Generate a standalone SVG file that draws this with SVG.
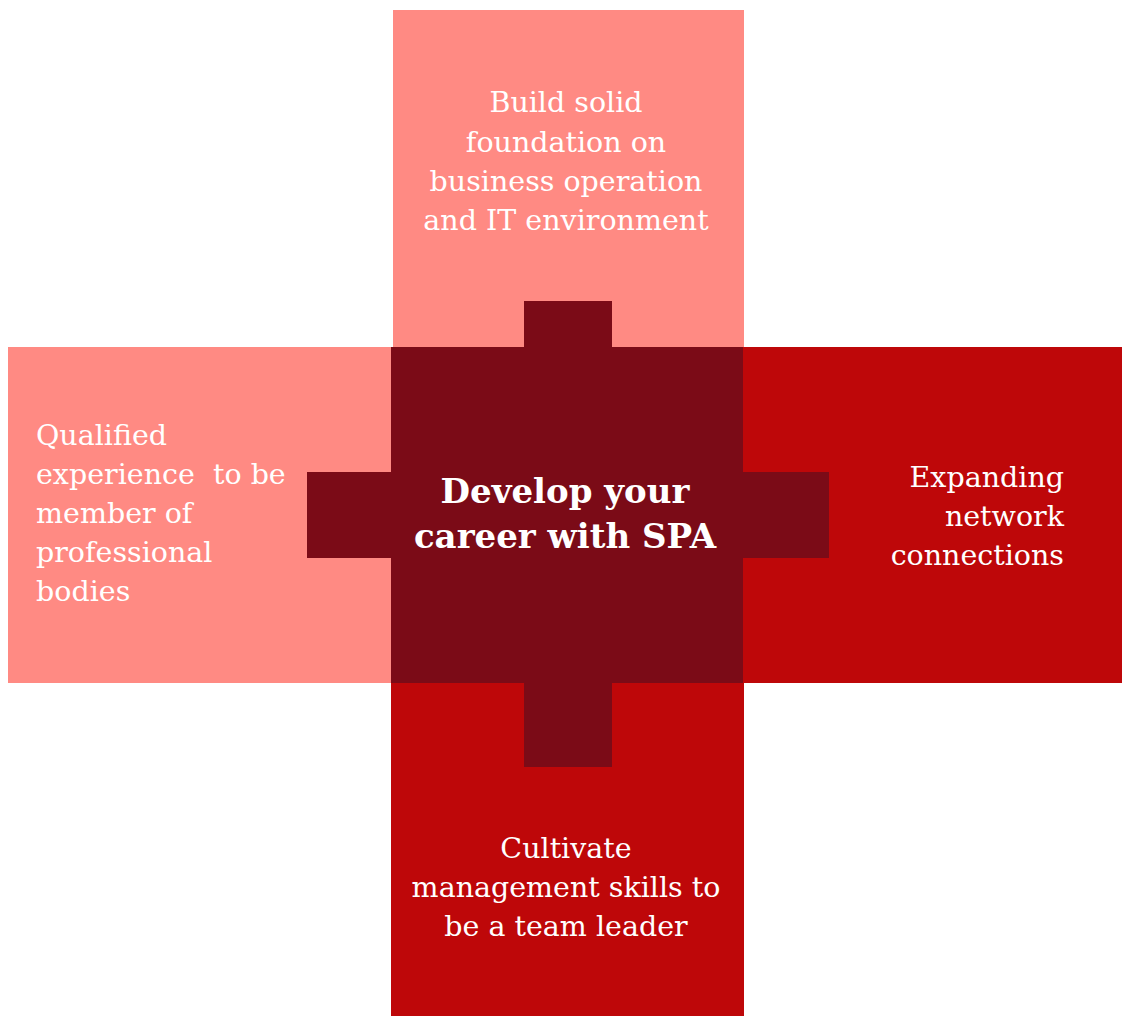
<svg xmlns="http://www.w3.org/2000/svg" width="1122" height="1016" viewBox="0 0 1122 1016">
<style>
.light{fill:#FF8A83}
.red{fill:#BE0709}
.dark{fill:#7B0B17}
text{font-family:"DejaVu Serif","Liberation Serif",serif;fill:#FFFFFF;font-size:28.5px;white-space:pre}
.c{text-anchor:middle}
.r{text-anchor:end}
.b{font-weight:bold;font-size:34px}
</style>
<rect width="1122" height="1016" fill="#FFFFFF"/>
<g id="node-top">
<rect class="light" x="393" y="10" width="351" height="337"/>
<text class="c" x="566" y="112">Build solid</text>
<text class="c" x="566" y="152">foundation on</text>
<text class="c" x="566" y="191">business operation</text>
<text class="c" x="566" y="230">and IT environment</text>
</g>
<g id="node-left">
<rect class="light" x="8" y="347" width="383" height="336"/>
<text x="36" y="445">Qualified</text>
<text x="36" y="484">experience  to be</text>
<text x="36" y="523">member of</text>
<text x="36" y="562">professional</text>
<text x="36" y="601">bodies</text>
</g>
<g id="node-right">
<rect class="red" x="743" y="347" width="379" height="336"/>
<text class="r" x="1064" y="487">Expanding</text>
<text class="r" x="1064" y="526">network</text>
<text class="r" x="1064" y="565">connections</text>
</g>
<g id="node-bottom">
<rect class="red" x="391" y="683" width="353" height="333"/>
<text class="c" x="566" y="858">Cultivate</text>
<text class="c" x="566" y="897">management skills to</text>
<text class="c" x="566" y="936">be a team leader</text>
</g>
<g id="node-center">
<rect class="dark" x="391" y="347" width="352" height="336"/>
<rect class="dark" x="524" y="301" width="88" height="46"/>
<rect class="dark" x="307" y="472" width="84" height="86"/>
<rect class="dark" x="743" y="472" width="86" height="86"/>
<rect class="dark" x="524" y="683" width="88" height="84"/>
<text class="c b" x="565" y="503">Develop your</text>
<text class="c b" x="565" y="548">career with SPA</text>
</g>
<g id="connectors"/>
</svg>
